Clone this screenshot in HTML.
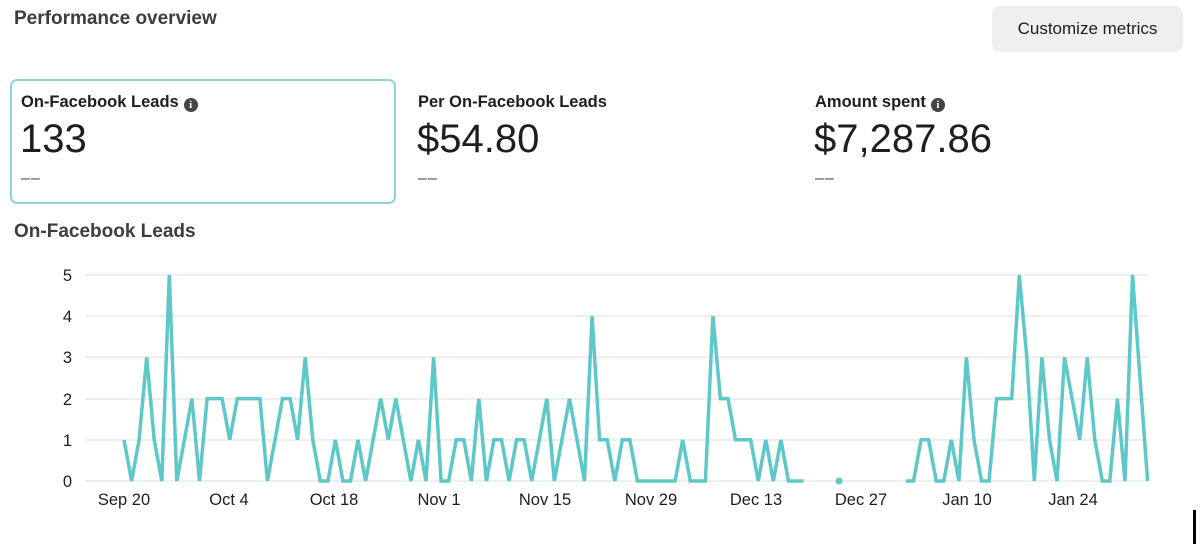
<!DOCTYPE html>
<html><head><meta charset="utf-8"><style>
body{margin:0;width:1200px;height:544px;background:#fff;font-family:"Liberation Sans",sans-serif;color:#1c1e21;position:relative;overflow:hidden}
.a{position:absolute;white-space:nowrap}
.t{font-weight:bold;font-size:19px;color:#3a3d42}
.l{font-weight:bold;font-size:16.5px;color:#1c1e21}
.n{font-size:40px;color:#1c1e21}
.d{font-size:16px;color:#444;letter-spacing:1px}
.i{display:inline-block;width:14px;height:14px;border-radius:50%;background:#444;color:#fff;font-size:11px;line-height:14px;text-align:center;font-weight:bold;vertical-align:-1px;margin-left:5px;font-family:"Liberation Serif",serif}
</style></head><body>
<div class="a t" style="left:14px;top:8px">Performance overview</div>
<div class="a" style="left:992px;top:6px;width:191px;height:46px;background:#efefef;border-radius:8px;font-size:17px;line-height:46px;text-align:center;color:#1c1e21">Customize metrics</div>
<div class="a" style="left:10px;top:79px;width:382px;height:121px;border:2px solid #8fd3dc;border-radius:7px"></div>
<div class="a l" style="left:21px;top:93px">On-Facebook Leads<span class="i">i</span></div>
<div class="a n" style="left:20px;top:117px">133</div>
<div class="a d" style="left:21px;top:170px">––</div>
<div class="a l" style="left:418px;top:93px">Per On-Facebook Leads</div>
<div class="a n" style="left:417px;top:117px">$54.80</div>
<div class="a d" style="left:418px;top:170px">––</div>
<div class="a l" style="left:815px;top:93px">Amount spent<span class="i">i</span></div>
<div class="a n" style="left:814px;top:117px">$7,287.86</div>
<div class="a d" style="left:815px;top:170px">––</div>
<div class="a t" style="left:14px;top:221px">On-Facebook Leads</div>
<div class="a" style="left:1193px;top:510px;width:3px;height:34px;background:#000"></div>
<svg class="a" style="left:0;top:0" width="1200" height="544" id="s">
<g stroke="#dcdde0" stroke-width="1">
<line x1="85" x2="1148" y1="275" y2="275"/><line x1="85" x2="1148" y1="316" y2="316"/><line x1="85" x2="1148" y1="357" y2="357"/><line x1="85" x2="1148" y1="399" y2="399"/><line x1="85" x2="1148" y1="440" y2="440"/><line x1="85" x2="1148" y1="481" y2="481"/>
</g>
<g font-size="16.5" fill="#1c1e21" text-anchor="end" font-family="Liberation Sans,sans-serif">
<text x="72" y="281">5</text><text x="72" y="322">4</text><text x="72" y="363">3</text><text x="72" y="405">2</text><text x="72" y="446">1</text><text x="72" y="487">0</text>
</g>
<g font-size="16.5" fill="#1c1e21" text-anchor="middle" font-family="Liberation Sans,sans-serif">
<text x="124" y="505">Sep 20</text><text x="229" y="505">Oct 4</text><text x="334" y="505">Oct 18</text><text x="439" y="505">Nov 1</text><text x="545" y="505">Nov 15</text><text x="651" y="505">Nov 29</text><text x="756" y="505">Dec 13</text><text x="861" y="505">Dec 27</text><text x="967" y="505">Jan 10</text><text x="1073" y="505">Jan 24</text>
</g>
<circle cx="839" cy="481" r="3.5" fill="#5ec8c9"/>
</svg>
<script>
var s=document.getElementById('s');
function seg(x0,v){var p=[];for(var i=0;i<v.length;i++)p.push((x0+i*7.55).toFixed(1)+','+(481-v[i]*41.2).toFixed(1));
var e=document.createElementNS('http://www.w3.org/2000/svg','polyline');e.setAttribute('points',p.join(' '));e.setAttribute('fill','none');e.setAttribute('stroke','#5ec8c9');e.setAttribute('stroke-width','3.5');e.setAttribute('stroke-linejoin','miter');s.appendChild(e);}
seg(124,[1,0,1,3,1,0,5,0,1,2,0,2,2,2,1,2,2,2,2,0,1,2,2,1,3,1,0,0,1,0,0,1,0,1,2,1,2,1,0,1,0,3,0,0,1,1,0,2,0,1,1,0,1,1,0,1,2,0,1,2,1,0,4,1,1,0,1,1,0,0,0,0,0,0,1,0,0,0,4,2,2,1,1,1,0,1,0,1,0,0,0]);
seg(906,[0,0,1,1,0,0,1,0,3,1,0,0,2,2,2,5,3,0,3,1,0,3,2,1,3,1,0,0,2,0,5,2.5,0]);
</script>
</body></html>
